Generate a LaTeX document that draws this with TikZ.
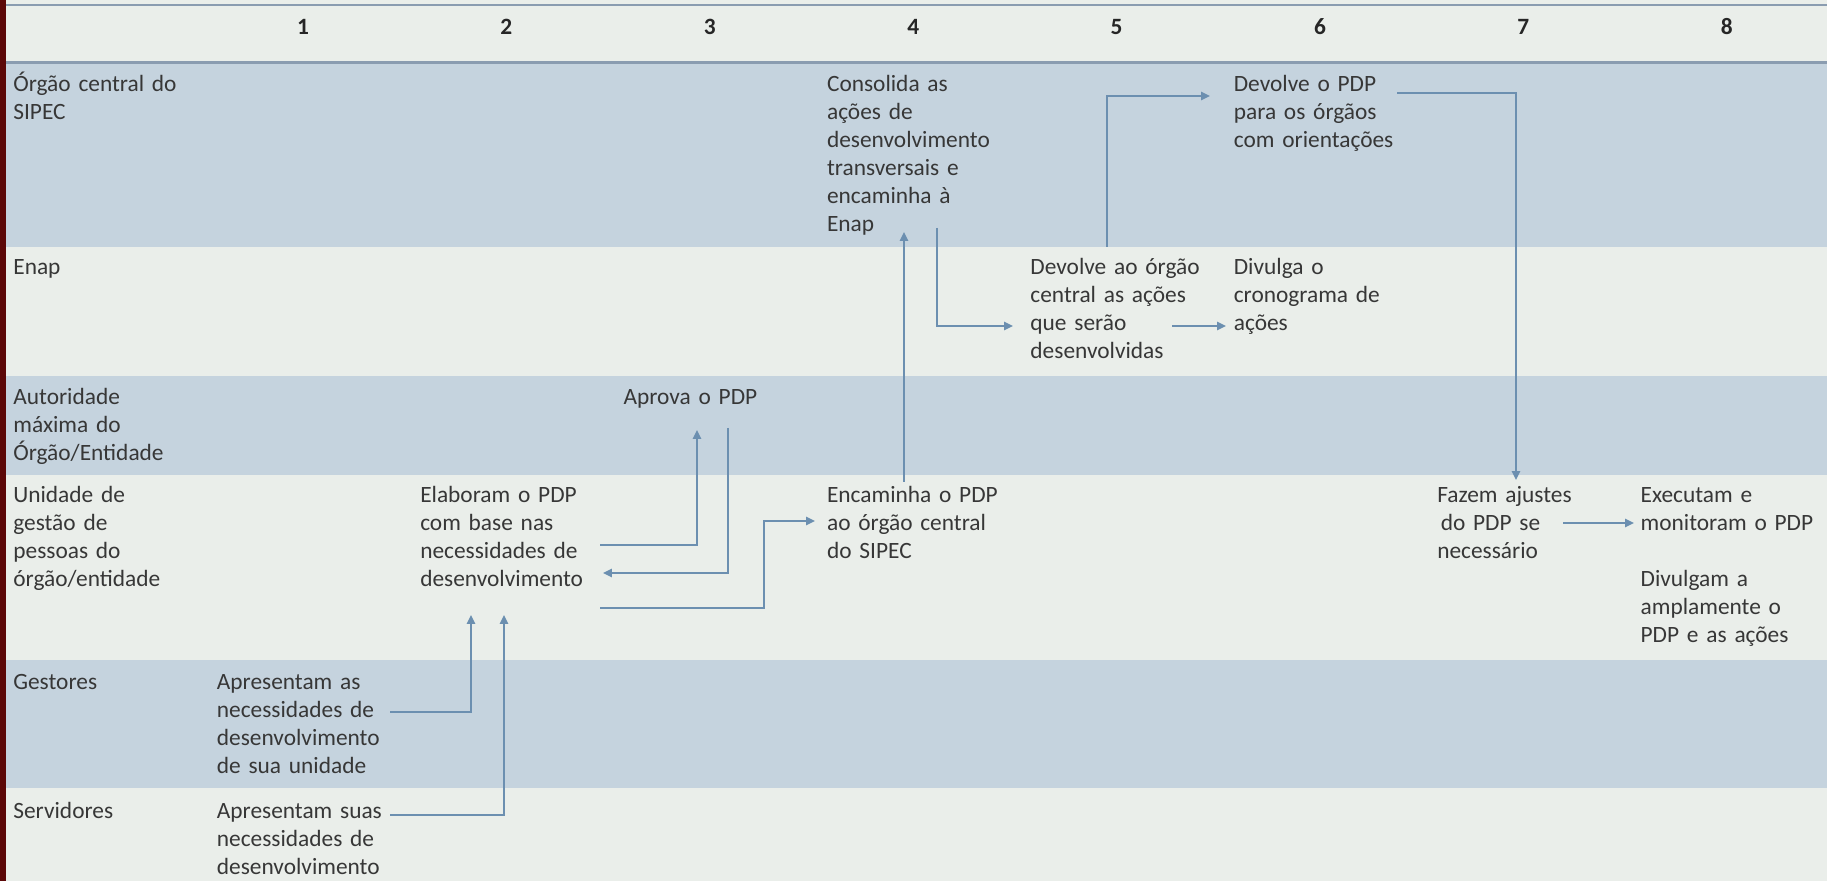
\documentclass[tikz,border=0pt]{standalone}
\usepackage{fontspec}
\setmainfont{Carlito}
\usetikzlibrary{arrows.meta, calc}
\definecolor{laneblue}{RGB}{197,211,222}
\definecolor{lanelight}{RGB}{234,238,234}
\definecolor{ruleblue}{RGB}{138,156,176}
\definecolor{flowblue}{RGB}{108,143,176}
\definecolor{textgray}{RGB}{55,55,55}
\definecolor{edgered}{RGB}{92,8,8}
\tikzset{
  lane/.style={anchor=base west, inner sep=0pt, text width=3.8cm, align=left,
               text=textgray, font=\fontsize{13.3pt}{15.93pt}\selectfont},
  stepbox/.style={lane},
  colnum/.style={anchor=base, inner sep=0pt, text=black!85,
                 font=\fontsize{13.3pt}{15.93pt}\selectfont\bfseries},
  flow/.style={-{Triangle[length=5pt, width=4.6pt]}, line width=1.1pt,
               draw=flowblue},
}

\begin{document}
\begin{tikzpicture}[x=0.02cm, y=-0.02cm]
  % 1 unit = 1 px of the slide, y grows downwards
  \useasboundingbox (0,0) rectangle (1827,881);

  % Lanes
  \fill[lanelight] (0,0) rectangle (1827,881);
  \fill[laneblue]  (0,63)  rectangle (1827,247);   % orgao central
  \fill[laneblue]  (0,376) rectangle (1827,475);   % autoridade
  \fill[laneblue]  (0,660) rectangle (1827,788);   % gestores
  \draw[ruleblue, line width=1.2pt] (0,5) -- (1827,5);
  \draw[ruleblue, line width=1.7pt] (0,62.5) -- (1827,62.5);
  \fill[edgered] (0,0) rectangle (6,881);

  % Header numbers
  \foreach \k in {1,...,8}
    \node[colnum] (num\k) at ({303+203.4*(\k-1)},35) {\k};

  % Lane labels
  \node[lane] (lsipec) at (13,92)  {Órgão central do\\SIPEC};
  \node[lane] (lenap)  at (13,275) {Enap};
  \node[lane] (lauto)  at (13,405) {Autoridade\\máxima do\\Órgão/Entidade};
  \node[lane] (lunid)  at (13,503) {Unidade de\\gestão de\\pessoas do\\órgão/entidade};
  \node[lane] (lgest)  at (13,690) {Gestores};
  \node[lane] (lserv)  at (13,819) {Servidores};

  % Steps (column k starts at 216.5 + 203.4*(k-1))
  \node[stepbox] (gest)    at (216.5,690)  {Apresentam as\\necessidades de\\desenvolvimento\\de sua unidade};
  \node[stepbox] (serv)    at (216.5,819)  {Apresentam suas\\necessidades de\\desenvolvimento};
  \node[stepbox] (elab)    at (419.9,503)  {Elaboram o PDP\\com base nas\\necessidades de\\desenvolvimento};
  \node[stepbox] (aprova)  at (623.3,405)  {Aprova o PDP};
  \node[stepbox] (encam)   at (826.7,503)  {Encaminha o PDP\\ao órgão central\\do SIPEC};
  \node[stepbox] (consol)  at (826.7,92)   {Consolida as\\ações de\\desenvolvimento\\transversais e\\encaminha à\\Enap};
  \node[stepbox] (devenap) at (1030.1,275) {Devolve ao órgão\\central as ações\\que serão\\desenvolvidas};
  \node[stepbox] (divulga) at (1233.5,275) {Divulga o\\cronograma de\\ações};
  \node[stepbox] (devpdp)  at (1233.5,92)  {Devolve o PDP\\para os órgãos\\com orientações};
  \node[stepbox] (ajustes) at (1436.9,503) {Fazem ajustes\\\hspace*{2pt}do PDP se\\necessário};
  \node[stepbox] (exec)    at (1640.3,503) {Executam e\\monitoram o PDP\\[15.93pt]Divulgam a\\amplamente o\\PDP e as ações};

  % Flow
  \draw[flow] ($(gest.base west)+(173.5,22)$) -| ($(elab.base west)+(51.1,112)$);
  \draw[flow] ($(serv.base west)+(173.5,-4)$) -| ($(elab.base west)+(84.1,112)$);
  \draw[flow] ($(elab.base west)+(180.1,42)$) -| ($(aprova.base west)+(73.7,25)$);
  \draw[flow] ($(aprova.base west)+(104.7,23)$) |- ($(elab.base west)+(183.1,70)$);
  \draw[flow] ($(elab.base west)+(180.1,105)$) -| ($(encam.base west)+(-62.7,18)$)
              -- ($(encam.base west)+(-11.7,18)$);
  \draw[flow] ($(encam.base west)+(77.3,-21)$) -- ($(consol.base west)+(77.3,140)$);
  \draw[flow] ($(consol.base west)+(110.3,136)$) |- ($(devenap.base west)+(-17.1,51)$);
  \draw[flow] ($(devenap.base west)+(141.9,51)$) -- ($(divulga.base west)+(-7.5,51)$);
  \draw[flow] ($(devenap.base west)+(76.9,-28)$) |- ($(devpdp.base west)+(-23.5,4)$);
  \draw[flow] ($(devpdp.base west)+(163.5,1)$) -| ($(ajustes.base west)+(79.1,-23)$);
  \draw[flow] ($(ajustes.base west)+(126.1,20)$) -- ($(exec.base west)+(-6.3,20)$);
\end{tikzpicture}
\end{document}
